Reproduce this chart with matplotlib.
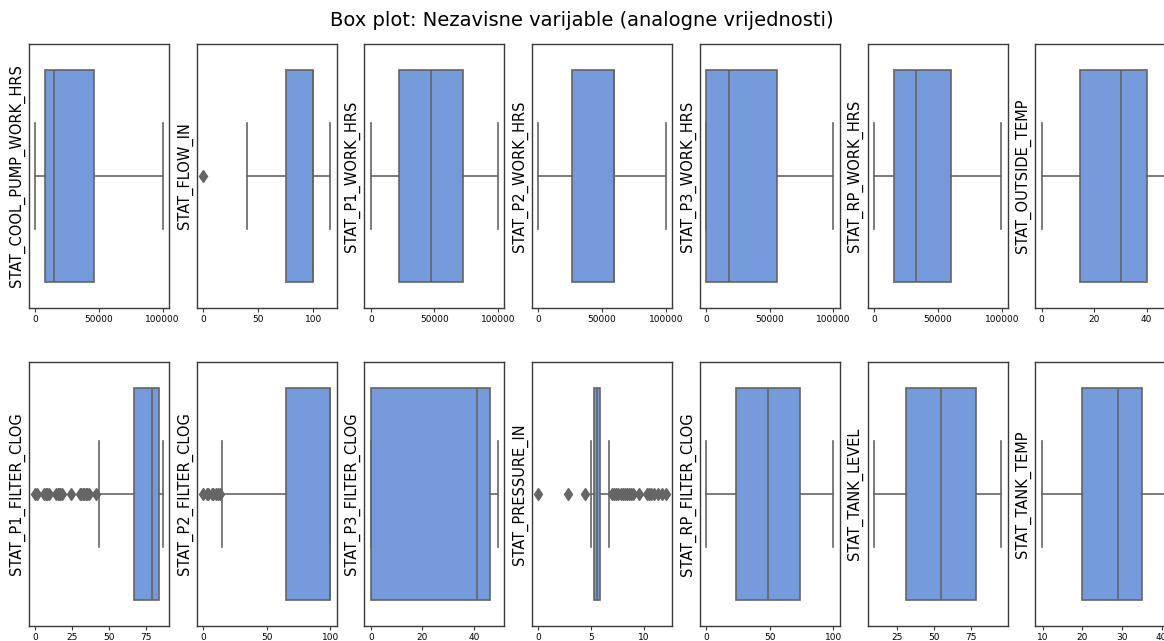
import matplotlib
matplotlib.use("Agg")
import matplotlib.pyplot as plt

# box statistics, one entry per variable
names = ["STAT_COOL_PUMP_WORK_HRS", "STAT_FLOW_IN", "STAT_P1_WORK_HRS",
         "STAT_P2_WORK_HRS", "STAT_P3_WORK_HRS", "STAT_RP_WORK_HRS",
         "STAT_OUTSIDE_TEMP", "STAT_P1_FILTER_CLOG", "STAT_P2_FILTER_CLOG",
         "STAT_P3_FILTER_CLOG", "STAT_PRESSURE_IN", "STAT_RP_FILTER_CLOG",
         "STAT_TANK_LEVEL", "STAT_TANK_TEMP"]
whislo = [0, 40, 0, 0, 0, 0, 0, 43, 15, 0, 4.95, 0, 9.3, 9.7]
q1 = [7400, 75, 22100, 26600, 0, 15900, 14.6, 66.4, 65.3, 0, 5.3, 23.4, 31.1, 20]
med = [14700, 100, 47100, 59700, 18200, 32800, 30.2, 79.1, 100, 41.3, 5.57, 48.2, 54.8, 29.1]
q3 = [46300, 100, 72400, 59700, 55500, 59900, 40, 83.4, 100, 46.1, 5.85, 73.9, 78.9, 35.1]
whishi = [100000, 115.5, 100000, 100000, 100000, 99000, 48.5, 86.1, 100, 49.3, 6.7, 100, 95.7, 41.8]
fliers = [
    [], [0], [], [], [], [], [],
    [0, 1, 6, 7, 8, 9, 14, 15, 16, 17, 18, 24, 30, 31, 32, 33, 34, 35, 36, 41],
    [0, 3, 4, 7, 8, 10, 12, 13.5],
    [],
    [0, 2.8, 4.4, 7.0, 7.2, 7.4, 7.6, 7.8, 8.0, 8.2, 8.4, 8.6, 8.8, 9.0,
     9.6, 10.3, 10.5, 10.7, 11.0, 11.4, 11.7, 12.1],
    [], [], [],
]
xticks = [
    [0, 50000, 100000], [0, 50, 100], [0, 50000, 100000], [0, 50000, 100000],
    [0, 50000, 100000], [0, 50000, 100000], [0, 20, 40],
    [0, 25, 50, 75], [0, 50, 100], [0, 20, 40], [0, 5, 10],
    [0, 50, 100], [25, 50, 75], [10, 20, 30, 40],
]

W, H = 1164, 641
fig = plt.figure(figsize=(W / 100, H / 100), dpi=100)
fig.text(0.5, 1 - 20 / H, "Box plot: Nezavisne varijable (analogne vrijednosti)",
         ha="center", va="center", fontsize=14)

box_col = "#759adc"
gray = "#656565"
edge = "#3a3a3a"

for i, name in enumerate(names):
    row, col = divmod(i, 7)
    left = 29 + 167.7 * col
    top = 44 + 318 * row
    ax = fig.add_axes([left / W, 1 - (top + 264) / H, 140 / W, 264 / H])

    st = dict(whislo=whislo[i], q1=q1[i], med=med[i], q3=q3[i],
              whishi=whishi[i], fliers=fliers[i], label="")
    ax.bxp([st], positions=[0], widths=0.8, capwidths=0.4,
           orientation="horizontal", patch_artist=True,
           boxprops=dict(facecolor=box_col, edgecolor=gray, linewidth=1.2),
           medianprops=dict(color=gray, linewidth=1.2),
           whiskerprops=dict(color=gray, linewidth=1.2),
           capprops=dict(color=gray, linewidth=1.2),
           flierprops=dict(marker="d", markerfacecolor=gray,
                           markeredgecolor=gray, markersize=6))
    ax.set_ylim(0.5, -0.5)
    ax.set_yticks([])
    ax.set_xticks(xticks[i])
    ax.tick_params(axis="x", labelsize=6.5, length=3, color=edge, pad=2)
    ax.set_ylabel(name, fontsize=10.5, labelpad=3)
    for s in ax.spines.values():
        s.set_color(edge)
        s.set_linewidth(1.0)

fig.savefig("out.png", dpi=100)
